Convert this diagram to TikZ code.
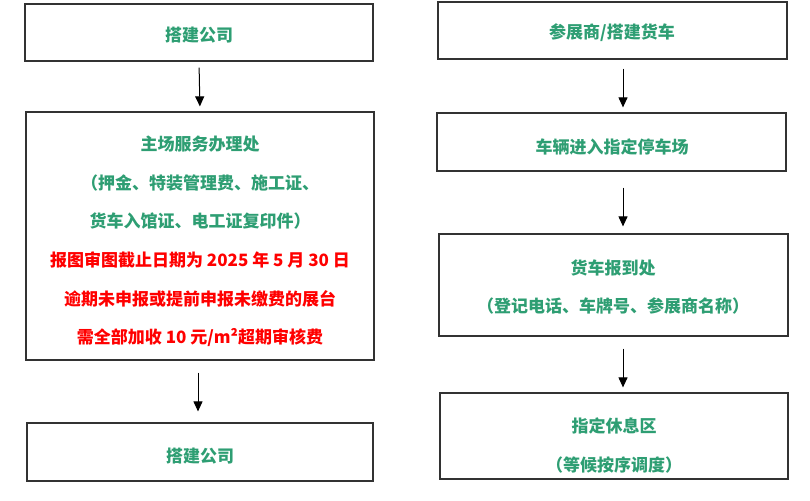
\documentclass[tikz,border=0pt]{standalone}
\usepackage{fontspec}
\setmainfont{Noto Sans CJK SC}
\usetikzlibrary{arrows.meta}
\definecolor{tgreen}{RGB}{46,158,115}
\definecolor{tred}{RGB}{255,0,0}
\definecolor{boxline}{RGB}{50,50,50}
\tikzset{
  box/.style={draw=boxline, line width=1.2pt, rectangle, inner sep=0pt},
  txt/.style={align=center, font=\fontsize{17}{38.6}\selectfont\bfseries, text=tgreen, inner sep=0pt},
  arr/.style={line width=1pt, -{Triangle[width=9pt,length=10pt]}}
}
\begin{document}
\begin{tikzpicture}[x=1pt,y=-1pt]
\useasboundingbox (0,0) rectangle (810,500);
% left column
\node[box, minimum width=348pt, minimum height=57pt] (l1) at (199,32.5) {};
\node[txt] (l1t) at (199,35) {搭建公司};
\node[box, minimum width=348pt, minimum height=248pt] (l2) at (200,236) {};
\node[txt] (l2t) at (200,241.5) {主场服务办理处\\（押金、特装管理费、施工证、\\货车入馆证、电工证复印件）\\\textcolor{tred}{报图审图截止日期为 2025 年 5 月 30 日}\\\textcolor{tred}{逾期未申报或提前申报未缴费的展台}\\\textcolor{tred}{需全部加收 10 元/m²超期审核费}};
\node[box, minimum width=346pt, minimum height=58pt] (l3) at (200,452) {};
\node[txt] (l3t) at (200,456) {搭建公司};
% right column
\node[box, minimum width=349pt, minimum height=57pt] (r1) at (612.5,30.5) {};
\node[txt] (r1t) at (612,33) {参展商/搭建货车};
\node[box, minimum width=349pt, minimum height=58pt] (r2) at (611.5,142) {};
\node[txt] (r2t) at (612,147) {车辆进入指定停车场};
\node[box, minimum width=349pt, minimum height=102pt] (r3) at (613.5,285) {};
\node[txt] (r3t) at (613,287) {货车报到处\\（登记电话、车牌号、参展商名称）};
\node[box, minimum width=348pt, minimum height=86pt] (r4) at (614,436) {};
\node[txt] (r4t) at (614,445.5) {指定休息区\\（等候按序调度）};
% arrows
\draw[arr, shorten <=6pt, shorten >=5pt] (l1.south) -- (l2.north);
\draw[arr, shorten <=12pt, shorten >=11pt] ([xshift=-2pt]l2.south) -- ([xshift=-2pt]l3.north);
\draw[arr, shorten <=9pt, shorten >=5pt] ([xshift=10.5pt]r1.south) -- ([xshift=10.5pt]r1.south |- r2.north);
\draw[arr, shorten <=16pt, shorten >=7pt] ([xshift=11.5pt]r2.south) -- ([xshift=11.5pt]r2.south |- r3.north);
\draw[arr, shorten <=12pt, shorten >=5pt] ([xshift=9.5pt]r3.south) -- ([xshift=9.5pt]r3.south |- r4.north);
\end{tikzpicture}
\end{document}
